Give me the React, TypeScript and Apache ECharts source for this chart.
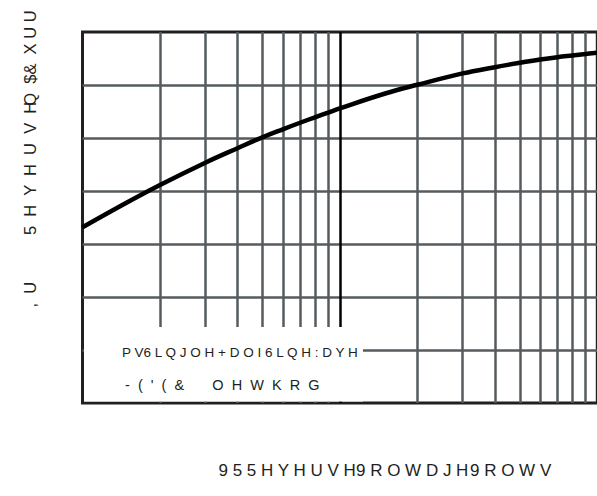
import React, { useEffect, useRef } from "react";
import * as echarts from "echarts";

// Reverse voltage (V) and reverse current
const VOLTAGE = [1, 1.5, 2, 3, 4, 5, 6, 7, 8, 9, 10, 15, 20, 30, 40, 50, 60, 70, 80, 90, 100];
const CURRENT = [2.07, 6.2, 13.0, 34.2, 64.2, 103, 146, 194, 246, 301, 363, 692, 1010, 1656, 2168, 2624, 3027, 3350, 3606, 3846, 4083];

// Vertical grid lines (log minor lines) and the decade line
const GRID_VOLTAGES = [2, 3, 4, 5, 6, 7, 8, 9, 20, 30, 40, 50, 60, 70, 80, 90];
const DECADE_VOLTAGES = [10];

const X_MIN = 1;
const X_MAX = 100;
const Y_MIN = 0.001;
const Y_MAX = 10000;

// Texts as they appear in the reference
const X_TITLE_RUNS = ["9 5 5 H Y H U V H", "9 R O W D J H", "9 R O W V"];
const Y_TITLE_RUNS = [",  U", "5  H  Y  H  U  V  H", "Q  $&  X U U"];
const LEGEND_LINES = ["P V6 L Q J O H + D O I 6 L Q H : D Y H", "-  (  '  (  &       O  H  W  K  R  G"];

const FONT = "'Liberation Sans', Arial, sans-serif";
const TEXT_COLOR = "#231f20";
const GRID_COLOR = "#555b5e";

export default function App() {
  const ref = useRef<HTMLDivElement>(null);

  useEffect(() => {
    if (!ref.current) return;
    const chart = echarts.init(ref.current, undefined, { renderer: "svg" });

    const xRunLeft = [218.5, 356, 470];
    const yRunStart = [307.5, 235, 105.8];

    const graphics: any[] = [
      {
        type: "rect",
        z: 10,
        silent: true,
        shape: { x: 84, y: 327, width: 279, height: 74.5 },
        style: { fill: "#ffffff" },
      },
      ...LEGEND_LINES.map((t, i) => ({
        type: "text",
        z: 11,
        x: i === 0 ? 122 : 125,
        y: i === 0 ? 352 : 385,
        style: {
          text: t,
          font: `${i === 0 ? 13.5 : 14.5}px ${FONT}`,
          fill: TEXT_COLOR,
          align: "left",
          verticalAlign: "middle",
        },
      })),
      ...X_TITLE_RUNS.map((t, i) => ({
        type: "text",
        z: 11,
        x: xRunLeft[i],
        y: 470,
        style: {
          text: t,
          font: `17px ${FONT}`,
          fill: TEXT_COLOR,
          align: "left",
          verticalAlign: "middle",
        },
      })),
      ...Y_TITLE_RUNS.map((t, i) => ({
        type: "text",
        z: 11,
        x: 30,
        y: yRunStart[i],
        rotation: Math.PI / 2,
        style: {
          text: t,
          font: `16.5px ${FONT}`,
          fill: TEXT_COLOR,
          align: "left",
          verticalAlign: "middle",
        },
      })),
    ];

    chart.setOption({
      animation: false,
      backgroundColor: "#ffffff",
      grid: {
        left: 82.5,
        top: 32,
        width: 514.8,
        height: 371,
        show: true,
        borderColor: "#231f20",
        borderWidth: 3,
        backgroundColor: "transparent",
      },
      xAxis: {
        type: "log",
        logBase: 10,
        min: X_MIN,
        max: X_MAX,
        axisLine: { show: false },
        axisTick: { show: false },
        axisLabel: { show: false },
        splitLine: { show: false },
      },
      yAxis: {
        type: "log",
        logBase: 10,
        min: Y_MIN,
        max: Y_MAX,
        splitNumber: 7,
        axisLine: { show: false },
        axisTick: { show: false },
        axisLabel: { show: false },
        splitLine: {
          show: true,
          showMinLine: false,
          showMaxLine: false,
          lineStyle: { color: GRID_COLOR, width: 2.5, type: "solid" },
        },
      },
      series: [
        {
          type: "line",
          z: 1,
          data: [],
          silent: true,
          markLine: {
            silent: true,
            symbol: ["none", "none"],
            label: { show: false },
            lineStyle: { type: "solid", color: GRID_COLOR, width: 2.5 },
            data: [
              ...GRID_VOLTAGES.map((v) => ({ xAxis: v })),
              ...DECADE_VOLTAGES.map((v) => ({
                xAxis: v,
                lineStyle: { type: "solid", color: "#000000", width: 2.5 },
              })),
            ],
          },
        },
        {
          type: "line",
          z: 5,
          data: VOLTAGE.map((v, i) => [v, CURRENT[i]]),
          smooth: 0.4,
          symbol: "none",
          lineStyle: { color: "#000000", width: 4.5 },
        },
      ],
      graphic: graphics,
    });

    return () => chart.dispose();
  }, []);

  return (
    <div
      style={{
        position: "absolute",
        left: 0,
        top: 0,
        width: 597,
        height: 496,
        overflow: "hidden",
        background: "#ffffff",
      }}
    >
      <div ref={ref} style={{ width: 620, height: 496 }} />
    </div>
  );
}
